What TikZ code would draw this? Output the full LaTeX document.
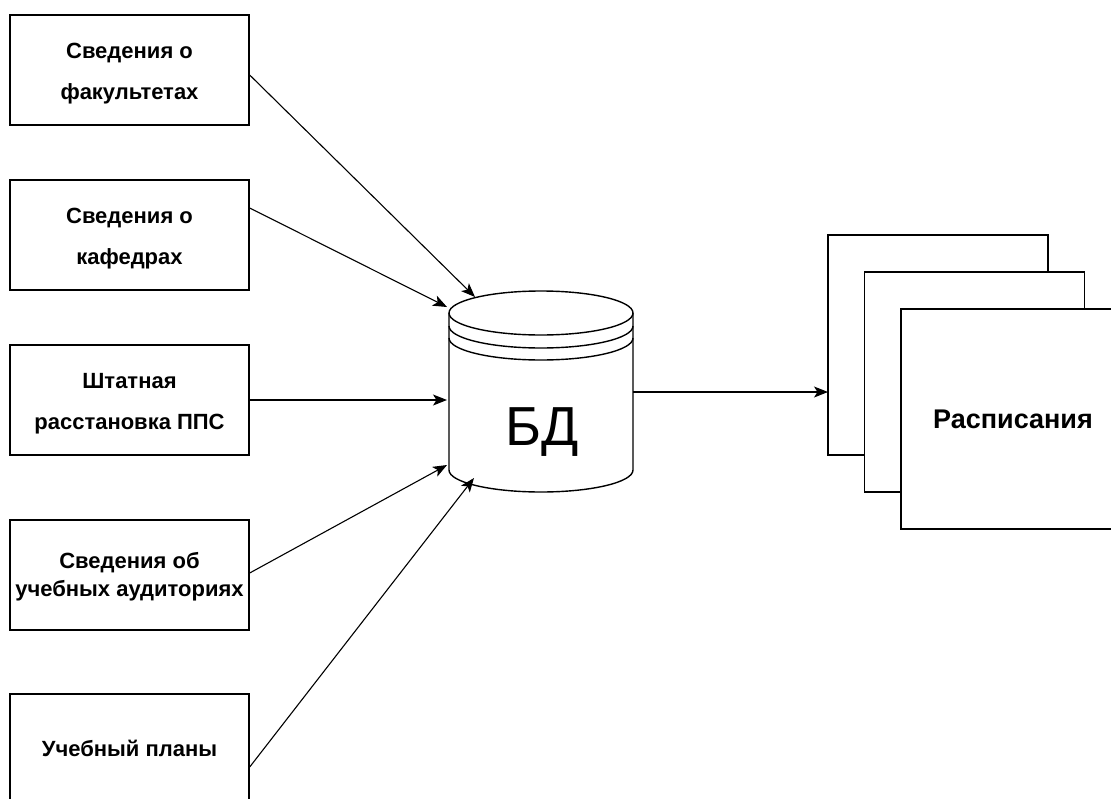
\documentclass[tikz,border=0pt]{standalone}
\usepackage{fontspec}
\setmainfont{Liberation Sans}
\usetikzlibrary{arrows.meta}

\tikzset{
  outline/.style={draw=black, line width=1.4pt},
  srcbox/.style={outline, fill=white, minimum width=239pt, minimum height=110pt,
    inner sep=0pt},
  srctext/.style={inner sep=0pt, align=center,
    font=\bfseries\fontsize{22}{41}\selectfont},
  pagebox/.style={outline, fill=white, minimum width=220pt, minimum height=220pt,
    inner sep=0pt},
  flow/.style={draw=black, line width=1.1pt,
    -{Stealth[length=14pt, width=11pt, inset=3.5pt]}},
}

\begin{document}
\begin{tikzpicture}[x=1pt, y=-1pt]
  \useasboundingbox (0,0) rectangle (1111,798);
  \clip (0,0) rectangle (1111,798);
  \fill[white] (0,0) rectangle (1111,798);

  % source documents
  \node[srcbox] (fac)  at (129.5,70)  {};
  \node[srcbox] (kaf)  at (129.5,235) {};
  \node[srcbox] (pps)  at (129.5,400) {};
  \node[srcbox] (aud)  at (129.5,575) {};
  \node[srcbox] (plan) at (129.5,749) {};

  \node[srctext] (fac-t)  at (129.5,74)  {Сведения о\\факультетах};
  \node[srctext] (kaf-t)  at (129.5,239) {Сведения о\\кафедрах};
  \node[srctext] (pps-t)  at (129.5,404) {Штатная\\расстановка ППС};
  \node[srctext, font=\bfseries\fontsize{22}{28}\selectfont]
                 (aud-t)  at (129.5,577) {Сведения об\\учебных аудиториях};
  \node[srctext] (plan-t) at (129.5,748) {Учебный планы};

  % database cylinder
  \draw[outline, fill=white] (449,313) -- (449,470)
     arc[start angle=180, end angle=0, x radius=92, y radius=22] -- (633,313);
  \draw[outline, fill=white] (541,313) ellipse[x radius=92, y radius=22];
  \draw[outline] (449,326) arc[start angle=180, end angle=0, x radius=92, y radius=22];
  \draw[outline] (449,338) arc[start angle=180, end angle=0, x radius=92, y radius=22];
  \node[inner sep=0pt, font=\fontsize{55}{55}\selectfont] (db) at (542,432) {БД};

  % attachment points on the cylinder
  \coordinate (in1) at (475,297);
  \coordinate (in2) at (447,307);
  \coordinate (in3) at (447,400);
  \coordinate (in4) at (447,465);
  \coordinate (in5) at (474,478);
  \coordinate (out) at (633,392);

  % stacked schedule sheets
  \node[pagebox] (sheet1) at (938,345) {};
  \node[pagebox] (sheet2) at (974.5,382) {};
  \node[pagebox] (sheet3) at (1011,419) {};
  \node[inner sep=0pt, font=\bfseries\fontsize{27}{30}\selectfont] (sheet3-t) at (1013,419) {Расписания};
  \coordinate (sheetin) at (828,392);

  % data flows
  \draw[flow] (fac.east |- 0,75)   -- (in1);
  \draw[flow] (kaf.east |- 0,208)  -- (in2);
  \draw[flow] (pps.east)           -- (in3);
  \draw[flow] (aud.east |- 0,573)  -- (in4);
  \draw[flow] (plan.east |- 0,767) -- (in5);
  \draw[flow] (out) -- (sheetin);
\end{tikzpicture}
\end{document}
